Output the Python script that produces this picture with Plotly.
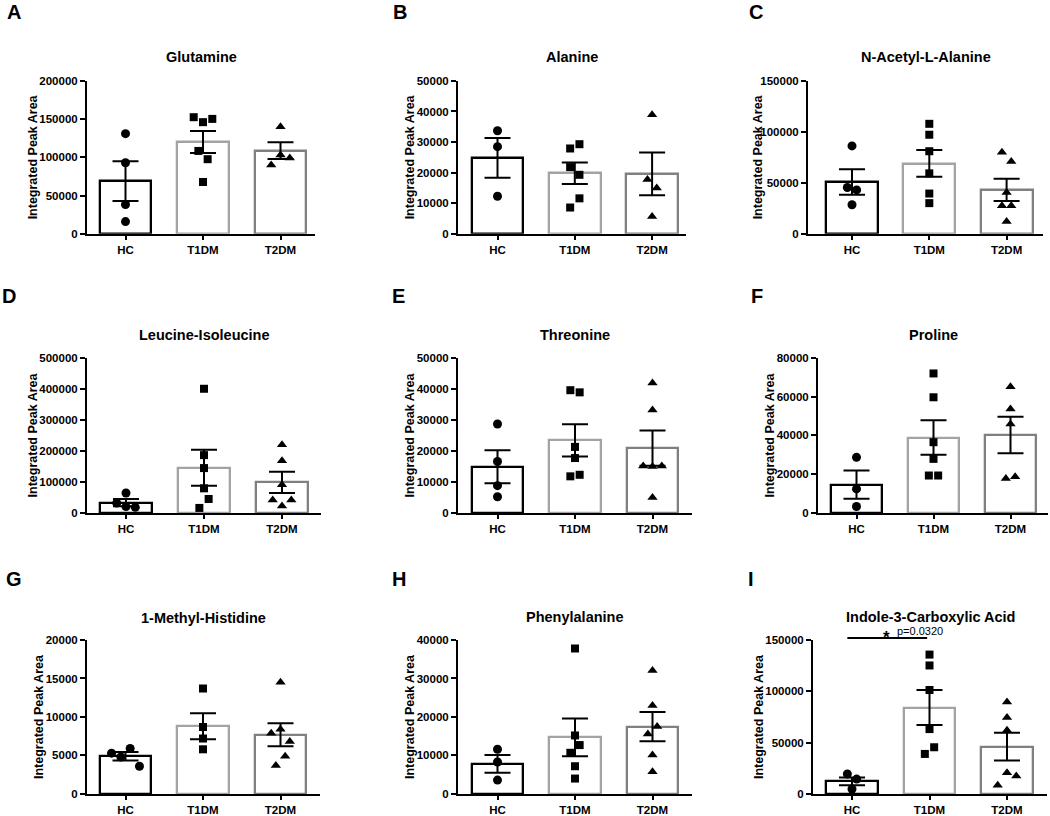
import plotly.graph_objects as go

# ---------------- data ----------------
groups = ["HC", "T1DM", "T2DM"]
panel_letters = ["A", "B", "C", "D", "E", "F", "G", "H", "I"]
metabolites = ["Glutamine", "Alanine", "N-Acetyl-L-Alanine",
               "Leucine-Isoleucine", "Threonine", "Proline",
               "1-Methyl-Histidine", "Phenylalanine", "Indole-3-Carboxylic Acid"]
y_max = [200000, 50000, 150000, 500000, 50000, 80000, 20000, 40000, 150000]
y_step = [50000, 10000, 50000, 100000, 10000, 20000, 5000, 10000, 50000]
y_axis_label = "Integrated Peak Area"

glutamine_hc = [131000, 93000, 38400, 16000]
glutamine_t1dm = [152500, 146000, 150300, 108400, 97600, 67800]
glutamine_t2dm = [140000, 90000, 103000, 99000]
glutamine_mean = [69000, 120000, 108900]
glutamine_sem = [26000, 14300, 11000]

alanine_hc = [33700, 28500, 12300]
alanine_t1dm = [27900, 29300, 21800, 19300, 8600, 11600]
alanine_t2dm = [38900, 17800, 15000, 5700]
alanine_mean = [24800, 19800, 19600]
alanine_sem = [6500, 3500, 7000]

nacetyl_hc = [86200, 45400, 43100, 28500]
nacetyl_t1dm = [107900, 97200, 81000, 59300, 39500, 30100]
nacetyl_t2dm = [80000, 71000, 40500, 27500, 27500, 12000]
nacetyl_mean = [50900, 69000, 43100]
nacetyl_sem = [12500, 13100, 10900]

leucine_hc = [64300, 32000, 20300, 18000]
leucine_t1dm = [400600, 186400, 144600, 79300, 16000, 45000]
leucine_t2dm = [219600, 168000, 91000, 41800, 22500, 41800]
leucine_mean = [33200, 145700, 98500]
leucine_sem = [12000, 58000, 34000]

threonine_hc = [28700, 16600, 8800, 5200]
threonine_t1dm = [39600, 38900, 21300, 17700, 11800, 12300]
threonine_t2dm = [41900, 33200, 15100, 15000, 15100, 5000]
threonine_mean = [14900, 23400, 20900]
threonine_sem = [5300, 5200, 5700]

proline_hc = [28700, 12400, 3300]
proline_t1dm = [72000, 59700, 36500, 27900, 19300, 19300]
proline_t2dm = [65200, 53700, 45900, 17700, 18700]
proline_mean = [14600, 38900, 40200]
proline_sem = [7300, 8900, 9400]

methylhis_hc = [5300, 4800, 5900, 3600]
methylhis_t1dm = [13700, 8700, 7200, 5800]
methylhis_t2dm = [14500, 7900, 8400, 6800, 3700, 4900]
methylhis_mean = [4900, 8800, 7700]
methylhis_sem = [550, 1700, 1500]

phenyl_hc = [11600, 8300, 3600]
phenyl_t1dm = [37800, 15200, 10700, 12700, 7200, 4000]
phenyl_t2dm = [32100, 23000, 15600, 17500, 10100, 5800]
phenyl_mean = [7800, 14700, 17500]
phenyl_sem = [2300, 4900, 3800]

indole_hc = [19400, 14500, 4800]
indole_t1dm = [135800, 125200, 101300, 63200, 39000, 45500]
indole_t2dm = [89700, 74500, 62000, 8400, 20600, 17400]
indole_mean = [12300, 84200, 46100]
indole_sem = [3700, 17000, 13500]

sig_pair = [0, 1]
sig_star = "*"
sig_text = "p=0.0320"

points = [
    [glutamine_hc, glutamine_t1dm, glutamine_t2dm],
    [alanine_hc, alanine_t1dm, alanine_t2dm],
    [nacetyl_hc, nacetyl_t1dm, nacetyl_t2dm],
    [leucine_hc, leucine_t1dm, leucine_t2dm],
    [threonine_hc, threonine_t1dm, threonine_t2dm],
    [proline_hc, proline_t1dm, proline_t2dm],
    [methylhis_hc, methylhis_t1dm, methylhis_t2dm],
    [phenyl_hc, phenyl_t1dm, phenyl_t2dm],
    [indole_hc, indole_t1dm, indole_t2dm],
]
means = [glutamine_mean, alanine_mean, nacetyl_mean, leucine_mean, threonine_mean,
         proline_mean, methylhis_mean, phenyl_mean, indole_mean]
sems = [glutamine_sem, alanine_sem, nacetyl_sem, leucine_sem, threonine_sem,
        proline_sem, methylhis_sem, phenyl_sem, indole_sem]

# ---------------- layout / style ----------------
W, H = 1050, 816
FONT = "Liberation Sans, Arial, sans-serif"
# vertical calibration of the photographed page
V_SCALE, V_OFF = 0.981, 5.6


def ypaper(y_px):
    return 1 - ((y_px - V_OFF) / V_SCALE) / H


# pixel boxes: left, right, top, bottom, first-category centre, category spacing
boxes = [
    (87, 315, 81, 235, 125.5, 77.5),
    (458, 686, 81, 235, 497.5, 77.3),
    (808, 1043, 81, 235, 852, 77.3),
    (87, 321, 360, 516, 126, 78),
    (458, 692, 360, 516, 497.5, 77.5),
    (818, 1048, 360, 516, 856.5, 77),
    (87, 320, 644, 799, 125.5, 77.5),
    (458, 692, 644, 799, 497.5, 77.5),
    (813, 1047, 644, 799, 852, 77.5),
]
letter_pos = [(5, 12), (391, 12), (747, 12), (0, 298), (390, 298), (749, 298),
              (4, 583), (390, 583), (746, 583)]
title_y = [57, 57, 57, 337, 337, 337, 622, 621, 621]
ylabel_x = [33, 410, 758, 33, 410, 770, 39, 410, 759]
outline_colors = ["#000000", "#a3a3a3", "#808080"]
symbols = ["circle", "square", "triangle-up"]
msizes = [9, 8, 9]


def jitter(vals, px_per_unit, step, thresh=9.5):
    order = sorted(range(len(vals)), key=lambda k: vals[k])
    clusters = []
    for k in order:
        if clusters and (vals[k] - vals[clusters[-1][-1]]) * px_per_unit < thresh:
            clusters[-1].append(k)
        else:
            clusters.append([k])
    offs = [0.0] * len(vals)
    for c in clusters:
        c = sorted(c)
        m = len(c)
        for j, k in enumerate(c):
            offs[k] = (j - (m - 1) / 2) * step
    return offs


fig = go.Figure()
annotations = []
shapes = []
layout_axes = {}

for i in range(9):
    n = i + 1
    xid = "x" if n == 1 else f"x{n}"
    yid = "y" if n == 1 else f"y{n}"
    L, R, T, B, c0, s = boxes[i]
    r0 = -(c0 - L) / s
    r1 = (R - c0) / s
    px_per_unit = (B - T) / y_max[i]

    fig.add_trace(go.Bar(
        x=[0, 1, 2], y=means[i], width=0.67,
        marker=dict(color="white", line=dict(color=outline_colors, width=2.3)),
        error_y=dict(type="data", array=sems[i], visible=True, color="black",
                     thickness=2, width=13),
        xaxis=xid, yaxis=yid, hoverinfo="skip", showlegend=False))

    for g in range(3):
        vals = points[i][g]
        offs = jitter(vals, px_per_unit, 9.3 / s)
        fig.add_trace(go.Scatter(
            x=[g + o for o in offs], y=vals, mode="markers",
            marker=dict(symbol=symbols[g], size=msizes[g], color="black",
                        line=dict(width=0)),
            xaxis=xid, yaxis=yid, hoverinfo="skip", showlegend=False,
            cliponaxis=False))

    ticks = list(range(0, y_max[i] + 1, y_step[i]))
    layout_axes["xaxis" if n == 1 else f"xaxis{n}"] = dict(
        domain=[L / W, R / W], anchor=yid, range=[r0, r1],
        tickmode="array", tickvals=[0, 1, 2], ticktext=groups,
        ticks="outside", ticklen=4, tickwidth=2, tickcolor="black",
        showline=True, linecolor="black", linewidth=2,
        showgrid=False, zeroline=False, fixedrange=True,
        tickfont=dict(family=FONT, size=11.5, color="black", weight="bold"))
    layout_axes["yaxis" if n == 1 else f"yaxis{n}"] = dict(
        domain=[ypaper(B), ypaper(T)], anchor=xid, range=[0, y_max[i]],
        tickmode="array", tickvals=ticks, ticktext=[str(t) for t in ticks],
        ticks="outside", ticklen=5, tickwidth=2, tickcolor="black",
        showline=True, linecolor="black", linewidth=2,
        showgrid=False, zeroline=False, fixedrange=True,
        tickfont=dict(family=FONT, size=11.5, color="black", weight="bold"))

    annotations.append(dict(
        text=y_axis_label, xref="paper", yref="paper", textangle=-90,
        x=ylabel_x[i] / W, y=ypaper((T + B) / 2), xanchor="center", yanchor="middle",
        showarrow=False, font=dict(family=FONT, size=12.5, color="black", weight="bold")))
    annotations.append(dict(
        text=metabolites[i], xref="paper", yref="paper",
        x=(L + R) / 2 / W, y=ypaper(title_y[i]), xanchor="center", yanchor="middle",
        showarrow=False, font=dict(family=FONT, size=14.5, color="black", weight="bold")))
    lx, ly = letter_pos[i]
    annotations.append(dict(
        text=panel_letters[i], xref="paper", yref="paper",
        x=lx / W, y=ypaper(ly), xanchor="left", yanchor="middle",
        showarrow=False, font=dict(family=FONT, size=20, color="black", weight="bold")))

# significance bracket on panel I
L, R, T, B, c0, s = boxes[8]
shapes.append(dict(type="line", xref="x9", yref="paper",
                   x0=sig_pair[0] - 0.06, x1=sig_pair[1] - 0.03,
                   y0=ypaper(T - 2), y1=ypaper(T - 2),
                   line=dict(color="black", width=2)))
annotations.append(dict(text=sig_star, xref="x9", yref="paper",
                        x=(sig_pair[0] + sig_pair[1]) / 2 - 0.05, y=ypaper(T - 3),
                        xanchor="center", yanchor="middle", showarrow=False,
                        font=dict(family=FONT, size=17, color="black", weight="bold")))
annotations.append(dict(text=sig_text, xref="x9", yref="paper",
                        x=(sig_pair[0] + sig_pair[1]) / 2 + 0.38, y=ypaper(T - 9),
                        xanchor="center", yanchor="middle", showarrow=False,
                        font=dict(family=FONT, size=11, color="black")))

fig.update_layout(
    width=W, height=H, margin=dict(l=0, r=0, t=0, b=0),
    paper_bgcolor="white", plot_bgcolor="white",
    showlegend=False, bargap=0,
    annotations=annotations, shapes=shapes,
    **layout_axes)

fig.write_html("out.html", config={"displayModeBar": False},
               post_script="document.body.style.margin='0';document.body.style.overflow='hidden';")
